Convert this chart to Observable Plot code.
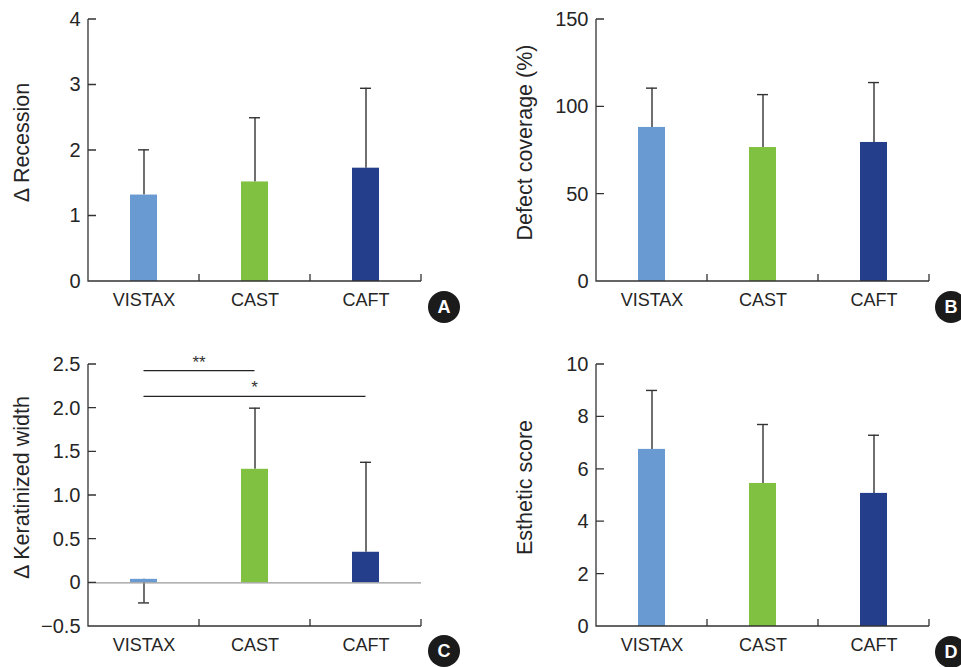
<!DOCTYPE html>
<html><head><meta charset="utf-8">
<script src="https://cdn.jsdelivr.net/npm/d3@7"></script>
<script src="https://cdn.jsdelivr.net/npm/@observablehq/plot@0.6"></script>
<style>
body{margin:0;background:#fff;}
#wrap{position:relative;width:961px;height:667px;overflow:hidden;background:#fff;font-family:"Liberation Sans",Arial,sans-serif;}
.panel{position:absolute;}
.badge{position:absolute;width:32px;height:32px;border-radius:50%;background:#1b1b1b;color:#fff;font:bold 18px "Liberation Sans",Arial,sans-serif;display:flex;align-items:center;justify-content:center;}
</style></head><body><div id="wrap"></div>
<script>
const groups = ["VISTAX", "CAST", "CAFT"];
const groupColors = ["#6a9ad2", "#80c142", "#243e8c"];

const recessionMean = [1.32, 1.52, 1.73];
const recessionErr = [2.01, 2.50, 2.95];
const recessionTicks = [0, 1, 2, 3, 4];

const coverageMean = [88.2, 76.7, 79.6];
const coverageErr = [110.7, 107.0, 113.9];
const coverageTicks = [0, 50, 100, 150];

const keratinMean = [0.04, 1.30, 0.35];
const keratinErr = [-0.23, 2.00, 1.38];
const keratinTicks = [-0.5, 0, 0.5, 1.0, 1.5, 2.0, 2.5];

const estheticMean = [6.76, 5.46, 5.08];
const estheticErr = [9.01, 7.71, 7.30];
const estheticTicks = [0, 2, 4, 6, 8, 10];

const sigFrom = ["VISTAX", "VISTAX"];
const sigTo = ["CAST", "CAFT"];
const sigLevel = [2.425, 2.13];
const sigLabel = ["**", "*"];

const FONT = '"Liberation Sans", Arial, sans-serif';
const TEXT = "#252525";
const AXIS = "#333333";

function bandwidthOf(x) {
  return typeof x.bandwidth === "function" ? x.bandwidth() : (x.bandwidth || 0);
}

function panel(o) {
  const data = groups.map((g, i) => ({group: g, mean: o.means[i], err: o.errs[i]}));
  const axisMark = (index, scales, values, dims) => {
    const {x, y} = scales;
    const X0 = dims.marginLeft, X1 = dims.width - dims.marginRight;
    const bw = bandwidthOf(x);
    const yb = y(o.domain[0]);
    let d = `M${X0},${y(o.domain[1])}V${yb}H${X1}`;
    for (const t of o.ticks) d += `M${X0},${y(t)}h8`;
    groups.forEach((c, i) => {
      const bx = i < groups.length - 1 ? (x(c) + bw + x(groups[i + 1])) / 2 : X1;
      d += `M${bx},${yb}v-7`;
    });
    const g = d3.create("svg:g");
    g.append("path").attr("d", d).attr("fill", "none").attr("stroke", AXIS).attr("stroke-width", 1.3);
    return g.node();
  };
  const sigMark = (index, scales) => {
    const {x, y} = scales;
    const bw = bandwidthOf(x);
    const g = d3.create("svg:g");
    sigLevel.forEach((lv, i) => {
      const xa = x(sigFrom[i]) + bw / 2, xb = x(sigTo[i]) + bw / 2, yy = y(lv);
      g.append("line").attr("x1", xa).attr("x2", xb).attr("y1", yy).attr("y2", yy)
        .attr("stroke", "#222").attr("stroke-width", 1.2);
      g.append("text").attr("x", (xa + xb) / 2).attr("y", yy - 3).attr("text-anchor", "middle")
        .attr("font-size", 17).attr("fill", "#333").text(sigLabel[i]);
    });
    return g.node();
  };
  const marks = [
    Plot.ruleX(data, {x: "group", y1: "mean", y2: "err", stroke: AXIS, strokeWidth: 1.4}),
    Plot.tickY(data, {x: "group", y: "err", stroke: AXIS, strokeWidth: 1.4, insetLeft: 8, insetRight: 8}),
    Plot.barY(data, {x: "group", y: "mean", fill: "group"}),
    o.zero ? Plot.ruleY([0], {stroke: "#9a9a9a", strokeWidth: 1.2}) : null,
    Plot.axisY({ticks: o.ticks, tickSize: 0, tickPadding: 8, tickFormat: o.fmt, fontSize: 20, fill: TEXT, label: null}),
    Plot.axisX({tickSize: 0, tickPadding: 12, fontSize: 18, fill: TEXT, label: null}),
    Plot.text([o.title], {frameAnchor: "left", textAnchor: "middle", rotate: -90, dx: o.titleDx, dy: -8, fontSize: 21.5, fill: TEXT}),
    axisMark,
    o.sig ? sigMark : null
  ];
  const plot = Plot.plot({
    width: o.width, height: o.height,
    marginLeft: o.ml, marginRight: o.mr, marginTop: o.mt, marginBottom: o.mb,
    style: {fontFamily: FONT, color: TEXT, background: "transparent", overflow: "visible"},
    x: {type: "band", domain: groups, paddingInner: 0.757, paddingOuter: 0.3785, label: null, axis: null},
    y: {domain: o.domain, label: null, axis: null},
    color: {domain: groups, range: groupColors},
    marks
  });
  const div = document.createElement("div");
  div.className = "panel";
  div.style.left = o.left + "px";
  div.style.top = o.top + "px";
  div.appendChild(plot);
  document.getElementById("wrap").appendChild(div);
  const b = document.createElement("div");
  b.className = "badge";
  b.textContent = o.badge;
  b.style.left = o.bx + "px";
  b.style.top = o.by + "px";
  document.getElementById("wrap").appendChild(b);
}

const fmtKer = d => d === 0 ? "0" : d3.format(".1f")(d);

panel({means: recessionMean, errs: recessionErr, domain: [0, 4], ticks: recessionTicks, fmt: d3.format("d"),
  title: "Δ Recession", titleDx: -66, left: 0, top: 0, width: 480, height: 333, ml: 88, mr: 59, mt: 19, mb: 52,
  badge: "A", bx: 428, by: 291});
panel({means: coverageMean, errs: coverageErr, domain: [0, 150], ticks: coverageTicks, fmt: d3.format("d"),
  title: "Defect coverage (%)", titleDx: -71, left: 480, top: 0, width: 481, height: 333, ml: 116, mr: 32, mt: 19, mb: 52,
  badge: "B", bx: 935, by: 291});
panel({means: keratinMean, errs: keratinErr, domain: [-0.5, 2.5], ticks: keratinTicks, fmt: fmtKer, zero: true, sig: true,
  title: "Δ Keratinized width", titleDx: -66, left: 0, top: 330, width: 480, height: 337, ml: 88, mr: 59, mt: 34, mb: 41,
  badge: "C", bx: 428, by: 635});
panel({means: estheticMean, errs: estheticErr, domain: [0, 10], ticks: estheticTicks, fmt: d3.format("d"),
  title: "Esthetic score", titleDx: -71, left: 480, top: 330, width: 481, height: 337, ml: 116, mr: 32, mt: 34, mb: 41,
  badge: "D", bx: 935, by: 636});
</script>
</body></html>
